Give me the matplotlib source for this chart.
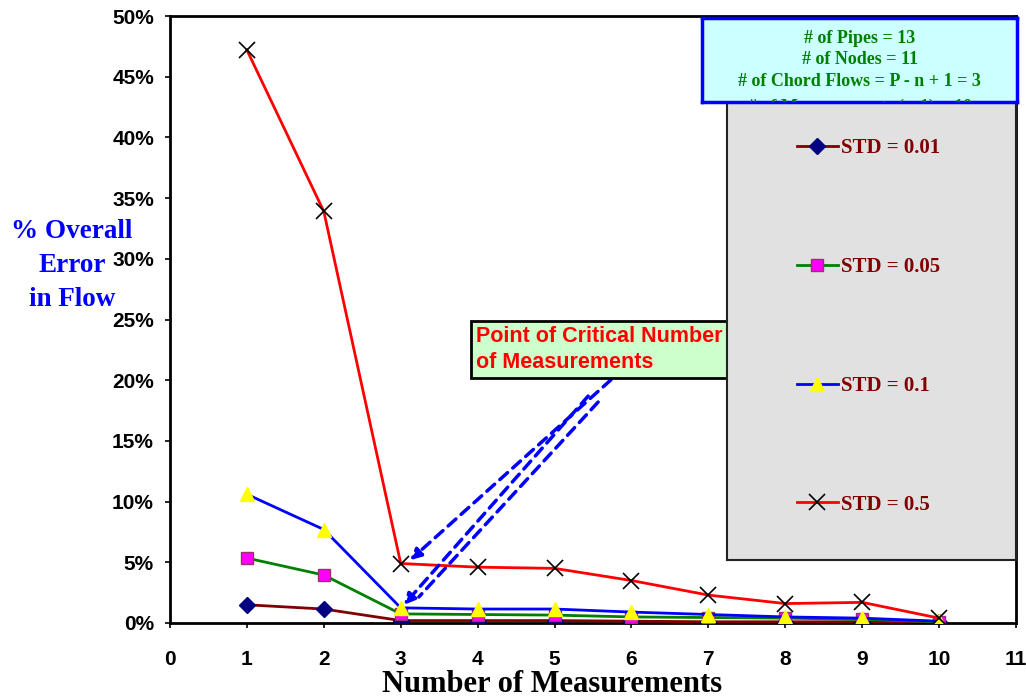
import matplotlib
matplotlib.use("Agg")
import matplotlib.pyplot as plt
from matplotlib.ticker import PercentFormatter

# number of measurements
n_meas = [1, 2, 3, 4, 5, 6, 7, 8, 9, 10]

# % overall error in flow
err_std_001 = [1.5, 1.15, 0.2, 0.2, 0.2, 0.15, 0.1, 0.1, 0.1, 0.05]
err_std_005 = [5.35, 3.95, 0.75, 0.7, 0.65, 0.5, 0.45, 0.4, 0.3, 0.1]
err_std_01 = [10.6, 7.7, 1.25, 1.15, 1.15, 0.9, 0.7, 0.5, 0.4, 0.15]
err_std_05 = [47.2, 33.9, 4.9, 4.6, 4.5, 3.5, 2.3, 1.6, 1.7, 0.4]

labels = ["STD = 0.01", "STD = 0.05", "STD = 0.1", "STD = 0.5"]
info_lines = ["# of Pipes = 13", "# of Nodes = 11",
              "# of Chord Flows = P - n + 1 = 3",
              "# of Measurements (n-1) = 10"]
ylabel_lines = ["% Overall", "Error", "in Flow"]

W, H = 1026, 698
fig = plt.figure(figsize=(W / 100, H / 100), dpi=100)


def fbox(x0, y0, x1, y1):
    # pixel box (top-left origin) -> figure fraction rect
    return [x0 / W, 1 - y1 / H, (x1 - x0) / W, (y1 - y0) / H]


ax = fig.add_axes(fbox(170, 16, 1016, 623))
ax.set_xlim(0, 11)
ax.set_ylim(0, 50)


def px(x, y):
    # pixel position in the picture -> data coords of the main axes
    return ((x - 170) / 846 * 11, (623 - y) / 607 * 50)


lw = 2.0
l1, = ax.plot(n_meas, err_std_001, color="#800000", lw=lw, marker="D", ms=8,
              mfc="#000080", mec="#000080", zorder=5)
l2, = ax.plot(n_meas, err_std_005, color="#008000", lw=lw, marker="s", ms=9,
              mfc="#ff00ff", mec="#993366", mew=1, zorder=5)
l3, = ax.plot(n_meas, err_std_01, color="#0000ff", lw=lw, marker="^", ms=10,
              mfc="#ffff00", mec="#ffff00", zorder=5)
l4, = ax.plot(n_meas, err_std_05, color="#ff0000", lw=lw, marker="x", ms=12,
              mfc="black", mec="black", mew=1.2, zorder=5)

ax.set_xticks(range(0, 12))
ax.set_yticks(range(0, 51, 5))
ax.yaxis.set_major_formatter(PercentFormatter(xmax=100, decimals=0))
for lab in ax.get_xticklabels() + ax.get_yticklabels():
    lab.set_fontfamily("Liberation Sans")
    lab.set_fontweight("bold")
    lab.set_fontsize(15)
ax.tick_params(direction="out", length=3.6, width=1.2)
ax.tick_params(axis="x", pad=16)
ax.tick_params(axis="y", pad=8)
for s in ax.spines.values():
    s.set_linewidth(2)

fig.text(552 / W, 1 - 684 / H, "Number of Measurements",
         family="Liberation Serif", weight="bold", fontsize=22,
         ha="center", va="center")
for i, line in enumerate(ylabel_lines):
    fig.text(72 / W, 1 - (232 + i * 34) / H, line, color="#0000ff",
             family="Liberation Serif", weight="bold", fontsize=19.5,
             ha="center", va="center")

# annotation box and arrows
ax.text(*px(476, 326), "Point of Critical Number\nof Measurements", color="#ff0000",
        family="Liberation Sans", weight="bold", fontsize=15.5, ha="left",
        va="top", linespacing=1.3, zorder=7,
        bbox=dict(boxstyle="square,pad=0.25", fc="#ccffcc", ec="black", lw=2))
dash = (0, (3, 2))
ax.annotate("", xy=px(408, 562), xytext=px(613, 378),
            arrowprops=dict(arrowstyle="-|>", color="#0000ff", lw=2.5,
                            ls=dash, mutation_scale=16), zorder=6)
ax.annotate("", xy=px(402, 607), xytext=px(590, 394),
            arrowprops=dict(arrowstyle="-|>", color="#0000ff", lw=2.5,
                            ls=dash, mutation_scale=16), zorder=6)
ax.annotate("", xy=px(417, 599), xytext=px(600, 400),
            arrowprops=dict(arrowstyle="-", color="#0000ff", lw=2.5,
                            ls=dash), zorder=6)

# legend panel
lax = fig.add_axes(fbox(727, 100, 1016, 560))
lax.set_facecolor("#e1e1e1")
lax.set_xticks([])
lax.set_yticks([])
for s in lax.spines.values():
    s.set_linewidth(1.5)
    s.set_color("#222222")
leg = lax.legend([l1, l2, l3, l4], labels, loc="center", frameon=False,
                 prop=dict(family="Liberation Serif", weight="bold", size=15),
                 labelspacing=4.75, handlelength=1.95, handletextpad=0.15,
                 bbox_to_anchor=(0.49, 0.508))
for t in leg.get_texts():
    t.set_color("#800000")

# info box on top, last line clipped by the box edge
iax = fig.add_axes(fbox(702, 18, 1017, 102))
iax.set_facecolor("#ccffff")
iax.set_xlim(0, 1)
iax.set_ylim(0, 1)
iax.set_xticks([])
iax.set_yticks([])
for s in iax.spines.values():
    s.set_linewidth(2.5)
    s.set_color("#0000ff")
line_y = [0.76, 0.505, 0.25, -0.06]
for y, line in zip(line_y, info_lines):
    iax.text(0.5, y, line, ha="center", va="center",
             color="#008000", family="Liberation Serif", weight="bold",
             fontsize=13, clip_on=True)

fig.savefig("out.png", dpi=100)
